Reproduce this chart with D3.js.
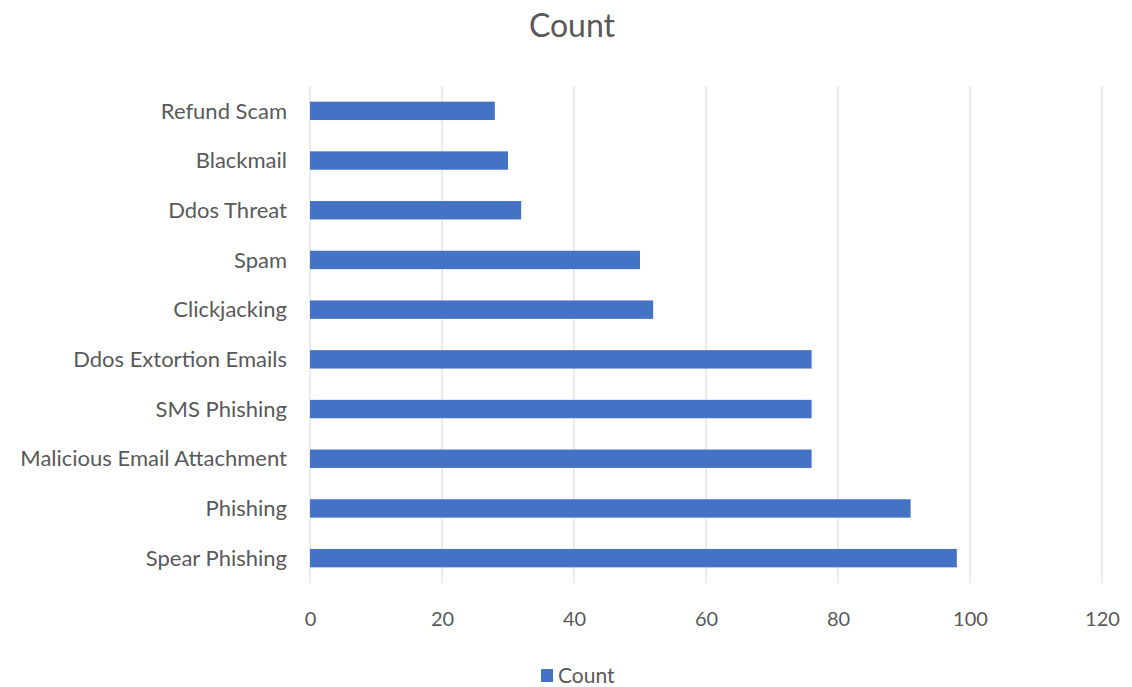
<!DOCTYPE html>
<html><head><meta charset="utf-8">
<script src="https://cdn.jsdelivr.net/npm/d3@7"></script>
<style>body{margin:0;background:#fff;} svg{display:block;}</style>
</head><body>
<svg id="chart" width="1132" height="687"></svg>
<script>
const categories = ["Refund Scam","Blackmail","Ddos Threat","Spam","Clickjacking","Ddos Extortion Emails","SMS Phishing","Malicious Email Attachment","Phishing","Spear Phishing"];
const counts = [28,30,32,50,52,76,76,76,91,98];
const xTicks = [0,20,40,60,80,100,120];
const seriesName = "Count";
const titleText = "Count";

const svg = d3.select("#chart");
const font = "Lato, 'Open Sans', sans-serif";
const textColor = "#595959";
const barColor = "#4472C4";

const x = d3.scaleLinear().domain([0,120]).range([310,1102]);
const y = d3.scaleBand().domain(categories).range([86,583]).paddingInner(0.63).paddingOuter(0.315);

// gridlines
svg.append("g").selectAll("line").data(xTicks).join("line")
  .attr("x1", d=>x(d)).attr("x2", d=>x(d)).attr("y1",86).attr("y2",583)
  .attr("stroke","#d9d9d9").attr("stroke-width",1);

// bars
svg.append("g").selectAll("rect").data(categories).join("rect")
  .attr("x", x(0)).attr("y", d=>y(d))
  .attr("width", (d,i)=>x(counts[i])-x(0)).attr("height", y.bandwidth())
  .attr("fill", barColor);

// x axis labels
const xAxis = d3.axisBottom(x).tickValues(xTicks).tickSize(0).tickPadding(0);
const gx = svg.append("g").attr("transform","translate(0,626)").call(xAxis);
gx.select(".domain").remove();
gx.selectAll("text").attr("dy",null).attr("font-family",font).attr("font-size",20).attr("fill",textColor);

// y axis labels
const yAxis = d3.axisLeft(y).tickSize(0).tickPadding(0);
const gy = svg.append("g").attr("transform","translate(287,0)").call(yAxis);
gy.select(".domain").remove();
gy.selectAll("text").attr("font-family",font).attr("font-size",22).attr("fill",textColor).attr("dy","0.35em");

// title
svg.append("text").attr("x",572).attr("y",37).attr("text-anchor","middle")
  .attr("font-family",font).attr("font-size",32).attr("fill",textColor).text(titleText);

// legend
svg.append("rect").attr("x",541).attr("y",669).attr("width",12).attr("height",13).attr("fill",barColor);
svg.append("text").attr("x",558).attr("y",683).attr("font-family",font).attr("font-size",21).attr("fill",textColor).text(seriesName);
</script>
</body></html>
